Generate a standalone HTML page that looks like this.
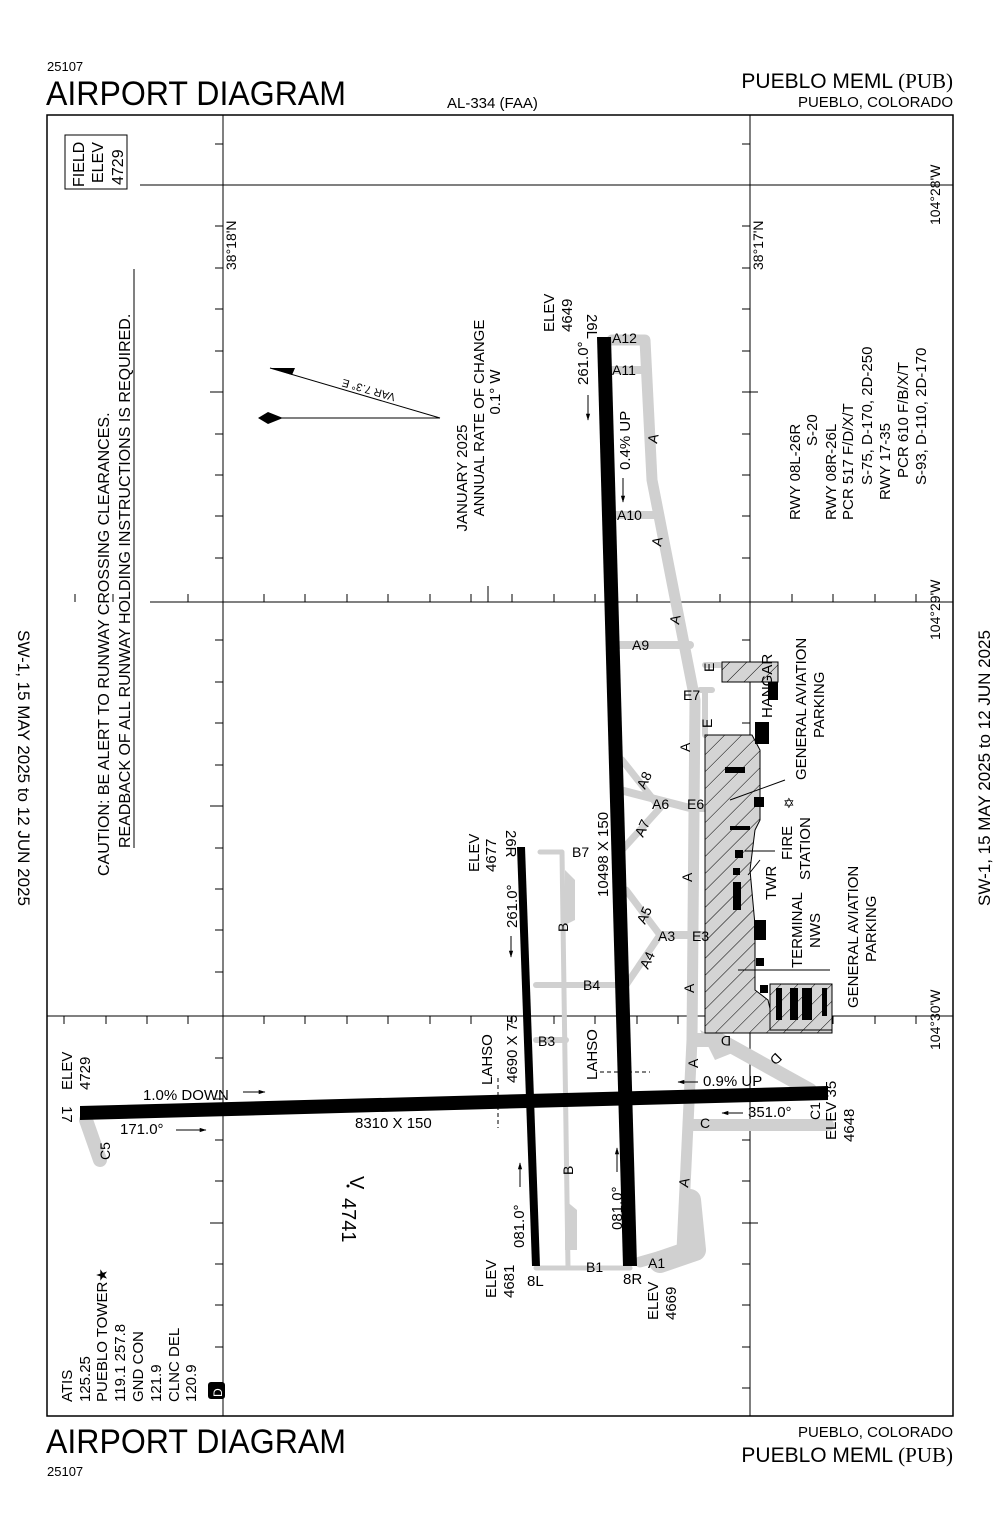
<!DOCTYPE html>
<html><head><meta charset="utf-8"><style>
html,body{margin:0;padding:0;background:#fff}
svg{display:block;font-family:"Liberation Sans",sans-serif}
</style></head><body>
<svg width="1000" height="1533" viewBox="0 0 1000 1533" xmlns="http://www.w3.org/2000/svg">
<defs>
<pattern id="h" patternUnits="userSpaceOnUse" width="12" height="12" patternTransform="rotate(45)">
<rect width="12" height="12" fill="#d4d4d4"/><line x1="0" y1="0" x2="0" y2="12" stroke="#000" stroke-width="1"/>
</pattern>
<marker id="ar" viewBox="0 0 10 10" refX="9" refY="5" markerWidth="7" markerHeight="7" orient="auto"><path d="M0 2 L10 5 L0 8 Z" fill="#000"/></marker>
</defs>
<!-- header -->
<text x="47" y="71" font-size="13">25107</text>
<text x="46" y="105" font-size="34" textLength="300" lengthAdjust="spacingAndGlyphs">AIRPORT DIAGRAM</text>
<text x="447" y="108" font-size="15">AL-334 (FAA)</text>
<text x="953" y="88" font-size="21" text-anchor="end">PUEBLO MEML <tspan font-family="Liberation Serif">(PUB)</tspan></text>
<text x="953" y="107" font-size="15" text-anchor="end">PUEBLO, COLORADO</text>
<!-- footer -->
<text x="46" y="1453" font-size="34" textLength="300" lengthAdjust="spacingAndGlyphs">AIRPORT DIAGRAM</text>
<text x="47" y="1476" font-size="13">25107</text>
<text x="953" y="1437" font-size="15" text-anchor="end">PUEBLO, COLORADO</text>
<text x="953" y="1462" font-size="21" text-anchor="end">PUEBLO MEML <tspan font-family="Liberation Serif">(PUB)</tspan></text>
<!-- side -->
<text transform="translate(18,768) rotate(90)" font-size="17" text-anchor="middle">SW-1, 15 MAY 2025 to 12 JUN 2025</text>
<text transform="translate(990,768) rotate(-90)" font-size="17" text-anchor="middle">SW-1, 15 MAY 2025 to 12 JUN 2025</text>
<!-- frame -->
<rect x="47" y="115" width="906" height="1301" fill="none" stroke="#000" stroke-width="1.5"/>
<!-- grid -->
<g stroke="#000" stroke-width="1">
<line x1="223" y1="115" x2="223" y2="1416"/>
<line x1="750" y1="115" x2="750" y2="1416"/>
<line x1="140" y1="185" x2="953" y2="185"/>
<line x1="150" y1="602" x2="953" y2="602"/>
<line x1="47" y1="1016" x2="953" y2="1016"/>
</g>
<g stroke="#000" stroke-width="1">
<path d="M215 144h8M215 226h8M215 268h8M215 309h8M215 351h8M210 392h13M215 434h8M215 475h8M215 516h8M215 558h8M215 640h8M215 682h8M215 723h8M215 765h8M210 806h13M215 848h8M215 889h8M215 930h8M215 972h8M215 1058h8M215 1099h8M215 1140h8M215 1181h8M210 1223h13M215 1264h8M215 1305h8M215 1347h8M215 1388h8"/>
<path d="M742 144h8M742 226h8M742 268h8M742 309h8M742 351h8M742 392h16M742 434h8M742 475h8M742 516h8M742 558h8M742 640h8M742 682h8M742 723h8M742 765h8M742 806h16M742 848h8M742 889h8M742 930h8M742 972h8M742 1058h8M742 1099h8M742 1140h8M742 1181h8M742 1223h16M742 1264h8M742 1305h8M742 1347h8M742 1388h8"/>
<path d="M75 602v-8M113 602v-8M188 602v-8M264 602v-8M305 602v-8M347 602v-8M388 602v-8M430 602v-8M471 602v-8M488 602v-16M512 602v-8M554 602v-8M595 602v-8M612 602v-16M637 602v-8M678 602v-8M720 602v-8M792 602v-8M833 602v-8M875 602v-8M916 602v-8"/>
<path d="M64 1016v8M106 1016v8M147 1016v8M188 1016v8M264 1016v8M305 1016v8M347 1016v8M388 1016v8M430 1016v8M471 1016v8M512 1016v8M554 1016v8M595 1016v8M637 1016v8M678 1016v8M720 1016v8M792 1016v8M833 1016v8M875 1016v8M916 1016v8"/>
<path d="M223 140v8M750 140v8"/>
</g>
<text transform="translate(236,270) rotate(-90)" font-size="14">38°18'N</text>
<text transform="translate(763,270) rotate(-90)" font-size="14">38°17'N</text>
<text transform="translate(940,225) rotate(-90)" font-size="14">104°28'W</text>
<text transform="translate(940,640) rotate(-90)" font-size="14">104°29'W</text>
<text transform="translate(940,1050) rotate(-90)" font-size="14">104°30'W</text>
<!-- field elev box -->
<rect x="65" y="135" width="62" height="54" fill="none" stroke="#000"/>
<text transform="translate(84,187) rotate(-90)" font-size="16">FIELD</text>
<text transform="translate(103,183) rotate(-90)" font-size="16">ELEV</text>
<text transform="translate(123,185) rotate(-90)" font-size="16">4729</text>
<!-- caution -->
<text transform="translate(109,876) rotate(-90)" font-size="16">CAUTION: BE ALERT TO RUNWAY CROSSING CLEARANCES.</text>
<text transform="translate(130,848) rotate(-90)" font-size="16">READBACK OF ALL RUNWAY HOLDING INSTRUCTIONS IS REQUIRED.</text>
<line x1="134" y1="848" x2="134" y2="269" stroke="#000"/>
<!-- magnetic variation -->
<line x1="270" y1="368" x2="440" y2="418" stroke="#000"/>
<line x1="270" y1="418" x2="440" y2="418" stroke="#000"/>
<path d="M270 368 L295 368 L292 375 Z" fill="#000"/>
<path d="M258 418 L268 412 L283 418 L268 424 Z" fill="#000"/>
<text transform="translate(396,394) rotate(196)" font-size="11">VAR 7.3° E</text>
<text transform="translate(467,478) rotate(-90)" font-size="15" text-anchor="middle">JANUARY 2025</text>
<text transform="translate(484,418) rotate(-90)" font-size="15" text-anchor="middle">ANNUAL RATE OF CHANGE</text>
<text transform="translate(500,392) rotate(-90)" font-size="15" text-anchor="middle">0.1° W</text>
<!-- runway info -->
<g font-size="15">
<text transform="translate(800,520) rotate(-90)">RWY 08L-26R</text>
<text transform="translate(817,446) rotate(-90)">S-20</text>
<text transform="translate(836,520) rotate(-90)">RWY 08R-26L</text>
<text transform="translate(853,520) rotate(-90)">PCR 517 F/D/X/T</text>
<text transform="translate(872,485) rotate(-90)">S-75, D-170, 2D-250</text>
<text transform="translate(890,500) rotate(-90)">RWY 17-35</text>
<text transform="translate(908,478) rotate(-90)">PCR 610 F/B/X/T</text>
<text transform="translate(926,485) rotate(-90)">S-93, D-110, 2D-170</text>
</g>
<!-- taxiways gray -->
<g fill="none" stroke="#d0d0d0" stroke-linejoin="round" stroke-linecap="round">
<path d="M612 340 L645 340 L652 480 L695 700 L692 1040 L682 1250 L640 1262" stroke-width="11"/>
<path d="M612 370 L648 370" stroke-width="8"/>
<path d="M616 515 L655 515" stroke-width="8"/>
<path d="M618 645 L690 645" stroke-width="8"/>
<path d="M620 790 L690 808 L720 808" stroke-width="8"/>
<path d="M622 760 L660 808 L622 850" stroke-width="7"/>
<path d="M626 890 L660 935 L626 985" stroke-width="7"/>
<path d="M660 935 L710 935" stroke-width="8"/>
<path d="M696 1040 L720 1040 L810 1090" stroke-width="14"/>
<path d="M690 1125 L828 1125" stroke-width="12"/>
<path d="M540 852 L562 852 L568 1268 L536 1268" stroke-width="5"/>
<path d="M536 985 L622 985" stroke-width="6"/>
<path d="M536 1040 L566 1040" stroke-width="6"/>
<path d="M568 1268 L630 1268" stroke-width="5"/>
<path d="M690 1200 L695 1250 L660 1262" stroke-width="22"/>
<path d="M86 1120 L100 1160" stroke-width="14"/>
<path d="M700 690 L712 690 M705 665 L720 665 M705 690 L705 735" stroke-width="6"/>
</g>
<path d="M700 1030 L715 1060 L740 1050 Z" fill="#d0d0d0"/>
<path d="M565 870 L575 880 L575 920 L565 925 Z M565 1200 L577 1210 L577 1250 L565 1250 Z" fill="#d0d0d0"/>
<!-- apron -->
<path d="M705 735 L752 735 L760 750 L760 820 L755 830 L750 870 L755 925 L755 990 L768 1000 L775 1030 L832 1030 L832 1033 L705 1033 Z" fill="url(#h)" stroke="#000"/>
<path d="M722 662 L778 662 L778 682 L722 682 Z" fill="url(#h)" stroke="#000"/>
<path d="M770 984 L832 984 L832 1030 L770 1030 Z" fill="url(#h)" stroke="#000"/>
<!-- buildings -->
<g fill="#000">
<rect x="768" y="682" width="10" height="18"/>
<rect x="755" y="722" width="14" height="22"/>
<rect x="725" y="767" width="20" height="6"/>
<rect x="754" y="797" width="10" height="10"/>
<rect x="730" y="826" width="20" height="4"/>
<rect x="735" y="850" width="8" height="8"/>
<rect x="733" y="868" width="7" height="7"/>
<rect x="733" y="882" width="8" height="28"/>
<rect x="754" y="920" width="12" height="20"/>
<rect x="756" y="958" width="8" height="8"/>
<rect x="760" y="985" width="8" height="8"/>
<rect x="776" y="988" width="6" height="32"/>
<rect x="790" y="988" width="8" height="32"/>
<rect x="802" y="988" width="10" height="32"/>
<rect x="822" y="988" width="5" height="28"/>
</g>
<text x="783" y="808" font-size="14">✡</text>
<!-- runways -->
<path d="M597 337 L611 337 L637 1266 L623 1266 Z" fill="#000"/>
<path d="M517 847 L525 847 L540 1266 L532 1266 Z" fill="#000"/>
<path d="M80 1106 L828 1086 L828 1100 L80 1120 Z" fill="#000"/>
<!-- LAHSO dashed -->
<line x1="498" y1="1078" x2="498" y2="1128" stroke="#000" stroke-dasharray="4,3"/>
<line x1="600" y1="1072" x2="650" y2="1072" stroke="#000" stroke-dasharray="4,3"/>
<line x1="738" y1="970" x2="830" y2="970" stroke="#000"/>
<line x1="785" y1="780" x2="730" y2="800" stroke="#000"/>
<line x1="745" y1="851" x2="775" y2="851" stroke="#000"/>
<line x1="748" y1="875" x2="760" y2="860" stroke="#000"/>
<!-- labels -->
<g font-size="14">
<text x="612" y="343">A12</text>
<text x="612" y="375">A11</text>
<text x="617" y="520">A10</text>
<text x="632" y="650">A9</text>
<text x="652" y="809">A6</text>
<text x="687" y="809">E6</text>
<text x="658" y="941">A3</text>
<text x="692" y="941">E3</text>
<text x="583" y="990">B4</text>
<text x="538" y="1046">B3</text>
<text x="572" y="857">B7</text>
<text x="586" y="1272">B1</text>
<text x="648" y="1268">A1</text>
<text x="683" y="700">E7</text>
<text transform="translate(657,444) rotate(-80)">A</text>
<text transform="translate(661,547) rotate(-80)">A</text>
<text transform="translate(679,625) rotate(-80)">A</text>
<text transform="translate(690,752) rotate(-90)">A</text>
<text transform="translate(692,882) rotate(-90)">A</text>
<text transform="translate(694,993) rotate(-90)">A</text>
<text transform="translate(698,1068) rotate(-90)">A</text>
<text transform="translate(688,1188) rotate(-80)">A</text>
<text transform="translate(645,790) rotate(-65)">A8</text>
<text transform="translate(643,838) rotate(-65)">A7</text>
<text transform="translate(645,925) rotate(-65)">A5</text>
<text transform="translate(648,970) rotate(-65)">A4</text>
<text transform="translate(568,932) rotate(-90)">B</text>
<text transform="translate(573,1175) rotate(-90)">B</text>
<text x="700" y="1128">C</text>
<text transform="translate(731,1036) rotate(180)">D</text>
<text transform="translate(776,1052) rotate(135)">D</text>
<text transform="translate(110,1160) rotate(-90)">C5</text>
<text transform="translate(820,1120) rotate(-90)">C1</text>
<text transform="translate(714,672) rotate(-90)">E</text>
<text transform="translate(712,728) rotate(-90)">E</text>
</g>
<g font-size="15">
<text transform="translate(554,332) rotate(-90)">ELEV</text>
<text transform="translate(572,332) rotate(-90)">4649</text>
<text transform="translate(587,314) rotate(90)">26L</text>
<text transform="translate(588,385) rotate(-90)">261.0°</text>
<text transform="translate(630,470) rotate(-90)">0.4% UP</text>
<text transform="translate(608,897) rotate(-90)">10498 X 150</text>
<text transform="translate(479,872) rotate(-90)">ELEV</text>
<text transform="translate(496,872) rotate(-90)">4677</text>
<text transform="translate(506,830) rotate(90)">26R</text>
<text transform="translate(517,928) rotate(-90)">261.0°</text>
<text transform="translate(492,1085) rotate(-90)">LAHSO</text>
<text transform="translate(517,1083) rotate(-90)">4690 X 75</text>
<text transform="translate(597,1080) rotate(-90)">LAHSO</text>
<text transform="translate(72,1090) rotate(-90)">ELEV</text>
<text transform="translate(90,1090) rotate(-90)">4729</text>
<text transform="translate(62,1106) rotate(90)">17</text>
<text x="143" y="1100">1.0% DOWN</text>
<text x="120" y="1134">171.0°</text>
<text x="355" y="1128">8310 X 150</text>
<text x="703" y="1086">0.9% UP</text>
<text x="748" y="1117">351.0°</text>
<text transform="translate(836,1140) rotate(-90)">ELEV 35</text>
<text transform="translate(854,1142) rotate(-90)">4648</text>
<text transform="translate(524,1248) rotate(-90)">081.0°</text>
<text transform="translate(622,1230) rotate(-90)">081.0°</text>
<text transform="translate(496,1298) rotate(-90)">ELEV</text>
<text transform="translate(514,1298) rotate(-90)">4681</text>
<text x="527" y="1286">8L</text>
<text x="623" y="1284">8R</text>
<text transform="translate(658,1320) rotate(-90)">ELEV</text>
<text transform="translate(676,1320) rotate(-90)">4669</text>
<text transform="translate(342,1198) rotate(90)" font-size="20">4741</text>
<text transform="translate(350,1176) rotate(90)" font-size="20">V</text>
<circle cx="348" cy="1186" r="1.5" fill="#000"/>
<text transform="translate(772,718) rotate(-90)">HANGAR</text>
<text transform="translate(806,780) rotate(-90)">GENERAL AVIATION</text>
<text transform="translate(824,738) rotate(-90)">PARKING</text>
<text transform="translate(792,860) rotate(-90)">FIRE</text>
<text transform="translate(810,880) rotate(-90)">STATION</text>
<text transform="translate(776,900) rotate(-90)">TWR</text>
<text transform="translate(802,968) rotate(-90)">TERMINAL</text>
<text transform="translate(820,948) rotate(-90)">NWS</text>
<text transform="translate(858,1008) rotate(-90)">GENERAL AVIATION</text>
<text transform="translate(876,962) rotate(-90)">PARKING</text>
</g>
<!-- arrows -->
<g stroke="#000" fill="none" marker-end="url(#ar)">
<line x1="588" y1="395" x2="588" y2="420"/>
<line x1="623" y1="478" x2="623" y2="502"/>
<line x1="511" y1="936" x2="511" y2="957"/>
<line x1="520" y1="1187" x2="520" y2="1163"/>
<line x1="617" y1="1172" x2="617" y2="1148"/>
<line x1="243" y1="1092" x2="265" y2="1092"/>
<line x1="176" y1="1130" x2="206" y2="1130"/>
<line x1="698" y1="1082" x2="678" y2="1082"/>
<line x1="743" y1="1113" x2="722" y2="1113"/>
</g>
<!-- comm -->
<g font-size="15">
<text transform="translate(72,1402) rotate(-90)">ATIS</text>
<text transform="translate(90,1402) rotate(-90)">125.25</text>
<text transform="translate(107,1402) rotate(-90)">PUEBLO TOWER★</text>
<text transform="translate(125,1402) rotate(-90)">119.1 257.8</text>
<text transform="translate(143,1402) rotate(-90)">GND CON</text>
<text transform="translate(161,1402) rotate(-90)">121.9</text>
<text transform="translate(179,1402) rotate(-90)">CLNC DEL</text>
<text transform="translate(196,1402) rotate(-90)">120.9</text>
</g>
<rect x="208" y="1382" width="17" height="17" rx="3" fill="#000"/>
<text transform="translate(222,1397) rotate(-90)" font-size="12" fill="#fff">D</text>
</svg>
</body></html>
